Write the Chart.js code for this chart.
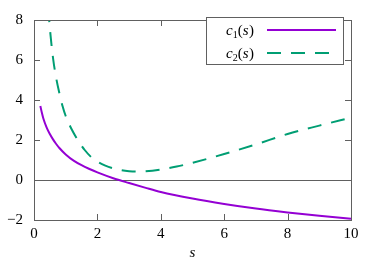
<!DOCTYPE html>
<html>
<head>
<meta charset="utf-8">
<script src="https://cdn.jsdelivr.net/npm/chart.js"></script>
<style>
  html, body { margin: 0; padding: 0; background: #fff; }
  #wrap { width: 374px; height: 262px; }
</style>
</head>
<body>
<div id="wrap"><canvas id="chart"></canvas></div>
<script>
// values
const sValues1 = [0.2, 0.25, 0.3, 0.4, 0.5, 0.6, 0.7, 0.8, 1, 1.25, 1.5, 1.75, 2, 2.5, 3, 3.5, 4, 5, 6, 7, 8, 9, 10];
const c1Values = [3.7, 3.35, 3.05, 2.62, 2.3, 2.03, 1.8, 1.6, 1.28, 0.97, 0.74, 0.55, 0.38, 0.09, -0.15, -0.38, -0.6, -0.93, -1.2, -1.43, -1.62, -1.79, -1.94];

const sValues2 = [0.45, 0.5, 0.6, 0.7, 0.8, 0.9, 1, 1.2, 1.4, 1.6, 1.8, 2, 2.25, 2.5, 2.75, 3, 3.25, 3.5, 4, 4.5, 5, 6, 7, 8, 9, 10];
const c2Values = [8.6, 7.6, 6.1, 5.1, 4.35, 3.7, 3.2, 2.5, 1.95, 1.5, 1.15, 0.92, 0.72, 0.58, 0.49, 0.44, 0.42, 0.43, 0.52, 0.67, 0.86, 1.3, 1.78, 2.3, 2.72, 3.12];

const xTicks = [0, 2, 4, 6, 8, 10];
const yTicks = [-2, 0, 2, 4, 6, 8];
const legendNames = [['c', '1', 's'], ['c', '2', 's']];
const xTitle = 's';

const PURPLE = '#9400d3';
const GREEN = '#009e73';
const AXIS = '#606060';
const SERIF = '"Liberation Serif", "DejaVu Serif", serif';

const toPoints = (xs, ys) => xs.map((x, i) => ({ x: x, y: ys[i] }));

// gnuplot style frame: border on all sides, ticks pointing inward, legend box
const framePlugin = {
  id: 'frame',
  afterDatasetsDraw(chart) {
    const ctx = chart.ctx;
    const a = chart.chartArea;
    const xs = chart.scales.x, ys = chart.scales.y;
    const tl = 6;
    ctx.save();
    ctx.strokeStyle = AXIS;
    ctx.lineWidth = 1;
    ctx.strokeRect(Math.round(a.left) + 0.5, Math.round(a.top) + 0.5,
      Math.round(a.right - a.left), Math.round(a.bottom - a.top));
    ctx.beginPath();
    xTicks.forEach(v => {
      const px = Math.round(xs.getPixelForValue(v)) + 0.5;
      ctx.moveTo(px, a.bottom); ctx.lineTo(px, a.bottom - tl);
      ctx.moveTo(px, a.top); ctx.lineTo(px, a.top + tl);
    });
    yTicks.forEach(v => {
      const py = Math.round(ys.getPixelForValue(v)) + 0.5;
      ctx.moveTo(a.left, py); ctx.lineTo(a.left + tl, py);
      ctx.moveTo(a.right, py); ctx.lineTo(a.right - tl, py);
    });
    ctx.stroke();

    // legend
    const bx = 206, by = 17, bw = 137, bh = 47;
    ctx.fillStyle = '#fff';
    ctx.fillRect(bx, by, bw, bh);
    ctx.strokeRect(bx + 0.5, by + 0.5, bw, bh);
    chart.data.datasets.forEach((ds, i) => {
      const cy = 30 + i * 23;
      const base = cy + 5;
      const parts = legendNames[i];
      let x = 226;
      ctx.fillStyle = '#000';
      ctx.textBaseline = 'alphabetic';
      ctx.textAlign = 'left';
      ctx.font = 'italic 15px ' + SERIF;
      ctx.fillText(parts[0], x, base); x += ctx.measureText(parts[0]).width;
      ctx.font = '10px ' + SERIF;
      ctx.fillText(parts[1], x, base + 3); x += ctx.measureText(parts[1]).width;
      ctx.font = '15px ' + SERIF;
      ctx.fillText('(', x, base); x += ctx.measureText('(').width;
      ctx.font = 'italic 15px ' + SERIF;
      ctx.fillText(parts[2], x, base); x += ctx.measureText(parts[2]).width + 0.5;
      ctx.font = '15px ' + SERIF;
      ctx.fillText(')', x, base);

      ctx.strokeStyle = ds.borderColor;
      ctx.lineWidth = ds.borderWidth;
      ctx.setLineDash(ds.borderDash || []);
      ctx.beginPath();
      ctx.moveTo(267, cy); ctx.lineTo(336, cy);
      ctx.stroke();
      ctx.setLineDash([]);
      ctx.strokeStyle = AXIS;
      ctx.lineWidth = 1;
    });
    ctx.restore();
  }
};

new Chart(document.getElementById('chart'), {
  type: 'scatter',
  data: {
    datasets: [
      {
        label: 'c1(s)',
        data: toPoints(sValues1, c1Values),
        showLine: true,
        borderColor: PURPLE,
        borderWidth: 2,
        pointRadius: 0,
        cubicInterpolationMode: 'monotone',
        clip: 0
      },
      {
        label: 'c2(s)',
        data: toPoints(sValues2, c2Values),
        showLine: true,
        borderColor: GREEN,
        borderWidth: 2,
        borderDash: [14, 10],
        pointRadius: 0,
        cubicInterpolationMode: 'monotone',
        clip: 0
      }
    ]
  },
  options: {
    responsive: true,
    maintainAspectRatio: false,
    animation: false,
    layout: { padding: { top: 13, right: 23, left: 0, bottom: 0 } },
    plugins: {
      legend: { display: false },
      tooltip: { enabled: false }
    },
    scales: {
      x: {
        type: 'linear',
        min: 0, max: 10,
        afterBuildTicks: s => { s.ticks = xTicks.map(v => ({ value: v })); },
        afterFit: s => { s.height = 42; },
        border: { display: false },
        grid: { display: false, drawTicks: false },
        ticks: {
          color: '#000',
          padding: 5,
          maxRotation: 0,
          font: { family: SERIF, size: 15 }
        },
        title: {
          display: true,
          text: xTitle,
          color: '#000',
          padding: { top: 0, bottom: 0 },
          font: { family: SERIF, size: 15, style: 'italic' }
        }
      },
      y: {
        type: 'linear',
        min: -2, max: 8,
        afterBuildTicks: s => { s.ticks = yTicks.map(v => ({ value: v })); },
        afterFit: s => { s.width = 34; },
        border: { display: false },
        grid: {
          drawTicks: false,
          color: ctx => ctx.tick && ctx.tick.value === 0 ? AXIS : 'rgba(0,0,0,0)',
          lineWidth: 1
        },
        ticks: {
          color: '#000',
          padding: 11,
          font: { family: SERIF, size: 15 },
          callback: v => v < 0 ? '\u2212' + Math.abs(v) : String(v)
        }
      }
    }
  },
  plugins: [framePlugin]
});
</script>
</body>
</html>
